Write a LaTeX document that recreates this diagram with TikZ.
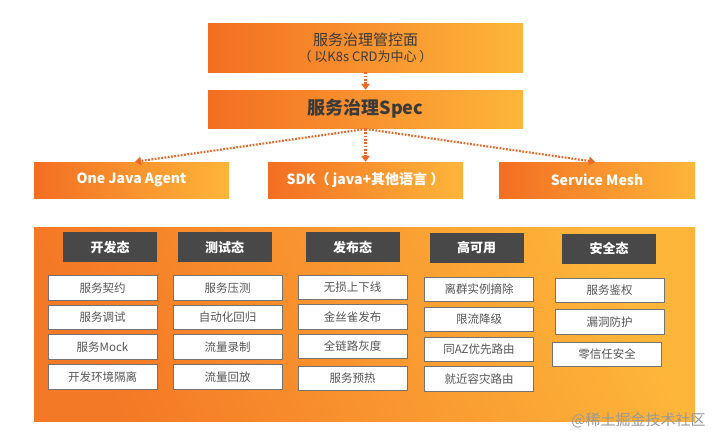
\documentclass[tikz,border=0pt]{standalone}
\usepackage{fontspec}
\setmainfont{Noto Sans CJK SC}
\usetikzlibrary{arrows.meta}
\definecolor{og1}{RGB}{243,110,34}
\definecolor{og2}{RGB}{253,182,58}
\definecolor{hdrc}{RGB}{72,72,72}
\definecolor{arc}{RGB}{238,104,42}
\definecolor{txt}{RGB}{58,58,58}
\definecolor{wtxt}{RGB}{85,85,85}
\tikzset{
  gbox/.style={left color=og1, right color=og2, draw=none, inner sep=0pt},
  hdr/.style={fill=hdrc, draw=none, minimum width=94pt, minimum height=30pt, inner sep=0pt, text=white, font=\bfseries\fontsize{13}{15}\selectfont},
  wbox/.style={fill=white, draw=black!55, line width=0.6pt, minimum width=109pt, minimum height=24.5pt, inner sep=0pt, text=wtxt, font=\fontsize{11.5}{13}\selectfont},
  darrow/.style={draw=arc, line width=2.2pt, dash pattern=on 1.8pt off 1.5pt, -{Triangle[length=6pt,width=8.5pt,fill=arc]}},
}
\begin{document}
\begin{tikzpicture}[x=1pt,y=-1pt]
\useasboundingbox (0,0) rectangle (720,442);
% top boxes
\node[gbox, minimum width=315pt, minimum height=49pt, align=center, text=txt] (ctrl) at (365.5,47.5)
  {\fontsize{15}{18}\selectfont 服务治理管控面\\[3pt]\fontsize{13}{16}\selectfont（ 以K8s CRD为中心 ）};
\node[gbox, minimum width=315pt, minimum height=38pt, text=txt, font=\bfseries\fontsize{18}{20}\selectfont] (spec) at (365.5,109) {服务治理Spec};
% middle boxes
\node[gbox, minimum width=195pt, minimum height=36pt, text=white, font=\bfseries\fontsize{14}{16}\selectfont] (agent) at (131.5,180) {One Java Agent};
\node[gbox, minimum width=195pt, minimum height=36pt, text=white, font=\bfseries\fontsize{14}{16}\selectfont] (sdk) at (365.5,180) {SDK（ java+其他语言 ）};
\node[gbox, minimum width=196pt, minimum height=36pt, text=white, font=\bfseries\fontsize{14}{16}\selectfont] (mesh) at (597,180) {Service Mesh};
% arrows
\draw[darrow] (ctrl.south) -- (spec.north);
\coordinate (sp) at (365.5,129);
\draw[darrow] (sp) -- (agent.north -| 135,0);
\draw[darrow] (sp) -- (sdk.north);
\draw[darrow] (sp) -- (mesh.north -| 595,0);
% panel
\node[left color=og1!85!og2, right color=og2, shading angle=115, minimum width=661pt, minimum height=194pt, inner sep=0pt] (panel) at (364.5,324) {};
% headers
\node[hdr] (h1) at (110,247) {开发态};
\node[hdr] (h2) at (224.5,247) {测试态};
\node[hdr] (h3) at (352.5,247) {发布态};
\node[hdr] (h4) at (476.5,247.5) {高可用};
\node[hdr] (h5) at (609,249) {安全态};
% column 1
\node[wbox] (a1) at (102.5,288) {服务契约};
\node[wbox] (a2) at (102.5,317.5) {服务调试};
\node[wbox] (a3) at (102.5,347) {服务Mock};
\node[wbox] (a4) at (102.5,377) {开发环境隔离};
% column 2
\node[wbox] (b1) at (227.5,288) {服务压测};
\node[wbox] (b2) at (227.5,317.5) {自动化回归};
\node[wbox] (b3) at (227.5,347) {流量录制};
\node[wbox] (b4) at (227.5,377) {流量回放};
% column 3
\node[wbox] (c1) at (352.5,287.5) {无损上下线};
\node[wbox] (c2) at (352.5,317) {金丝雀发布};
\node[wbox] (c3) at (352.5,346.5) {全链路灰度};
\node[wbox] (c4) at (352.5,378.5) {服务预热};
% column 4
\node[wbox] (d1) at (479,289.5) {离群实例摘除};
\node[wbox] (d2) at (479,319.5) {限流降级};
\node[wbox] (d3) at (479,349.5) {同AZ优先路由};
\node[wbox] (d4) at (479,379) {就近容灾路由};
% column 5
\node[wbox] (e1) at (609.5,290.5) {服务鉴权};
\node[wbox] (e2) at (609.5,322) {漏洞防护};
\node[wbox] (e3) at (607,354.5) {零信任安全};
% watermark
\node[text=black!40, font=\fontsize{15}{17}\selectfont, inner sep=0pt] (wm) at (638.5,420) {@稀土掘金技术社区};
\end{tikzpicture}
\end{document}
